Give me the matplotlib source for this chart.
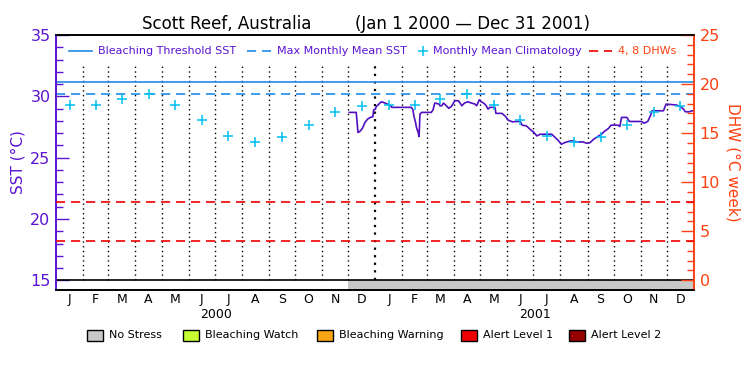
"""
Scott Reef, Australia: SST time series vs. climatology and bleaching
thresholds, 2000-2001, in the style of a Coral Reef Watch station plot.
"""
import numpy as np
import matplotlib
matplotlib.use("Agg")
import matplotlib.pyplot as plt
from matplotlib.patches import Rectangle
from matplotlib.transforms import blended_transform_factory

# ---- data ----
MONTH_LETTERS = ["J", "F", "M", "A", "M", "J", "J", "A", "S", "O", "N", "D"]
YEARS = ["2000", "2001"]

# monthly mean climatology (degC), same every year
clim_sst = [29.30, 29.30, 29.82, 30.15, 29.31, 28.09, 26.77, 26.30,
            26.69, 27.69, 28.76, 29.18]
mmm_sst = 30.15            # maximum monthly mean
threshold_sst = 31.15      # bleaching threshold = MMM + 1
dhw_levels = [4, 8]

# satellite SST, days since 2000-01-01
sst_day = [336, 344, 346, 348, 351, 354, 357, 360, 363, 364, 366, 367, 369,
           371, 373, 377, 382, 385, 407, 409, 410, 412, 413, 415, 416, 417,
           419, 430, 432, 434, 439, 440, 442, 444, 448, 450, 453, 457, 461,
           463, 465, 468, 472, 476, 480, 482, 485, 487, 490, 493, 495, 497,
           503, 504, 511, 515, 518, 523, 528, 532, 534, 539, 543, 547, 551,
           555, 568, 572, 576, 579, 583, 589, 593, 597, 604, 608, 612, 616,
           620, 625, 629, 633, 636, 644, 646, 648, 654, 657, 671, 674, 678,
           681, 683, 696, 699, 711, 715, 719, 721, 726, 728, 731]
sst_val = [28.69, 28.69, 27.05, 27.13, 27.38, 27.87, 28.14, 28.28, 28.33,
           28.90, 28.96, 29.18, 29.29, 29.45, 29.56, 29.45, 29.29, 29.10,
           29.10, 28.90, 28.41, 27.87, 27.46, 27.05, 26.72, 28.55, 28.69,
           28.69, 28.90, 29.45, 29.37, 29.23, 29.23, 29.45, 29.18, 29.02,
           29.18, 29.64, 29.64, 29.45, 29.23, 29.45, 29.56, 29.45, 29.37,
           29.23, 29.72, 29.56, 29.45, 29.23, 28.96, 29.10, 29.10, 28.61,
           28.61, 28.36, 28.06, 27.92, 27.95, 27.95, 27.65, 27.59, 27.32,
           27.10, 26.77, 26.91, 26.91, 26.64, 26.36, 26.09, 26.23, 26.36,
           26.36, 26.28, 26.28, 26.17, 26.23, 26.50, 26.69, 26.91, 27.18,
           27.38, 27.65, 27.65, 27.54, 28.28, 28.28, 27.95, 27.95, 27.81,
           27.95, 28.41, 28.82, 28.82, 29.37, 29.29, 29.18, 28.96, 28.74,
           28.74, 28.82, 28.82]

# stress level bar: (start day, end day, level)
stress_start = [0, 335]
stress_end = [335, 731]
stress_level = [None, "No Stress"]

STRESS_NAMES = ["No Stress", "Bleaching Watch", "Bleaching Warning",
                "Alert Level 1", "Alert Level 2"]
STRESS_COLORS = ["#c8c8c8", "#c8ff32", "#faa514", "#f00000", "#960000"]

# ---- palette ----
PURPLE = "#5a14d2"
LINE_PURPLE = "#5010c0"
ORANGE = "#ff4010"
BLUE = "#1e8ce8"
CYAN = "#00c0f0"
RED = "#f00000"

SST_LO, SST_HI = 14.21, 35.0


def to_dhw(s):
    return (s - 15.0) * 1.25


fig = plt.figure(figsize=(7.5, 3.75), dpi=100)
ax = fig.add_axes([56 / 750, 85 / 375, 638 / 750, 255 / 375])
ax2 = ax.twinx()

# month geometry
month_starts = np.arange("2000-01", "2002-01", dtype="datetime64[M]").astype("datetime64[D]")
start_days = (month_starts - np.datetime64("2000-01-01")).astype(int)
end_days = np.append(start_days[1:], 731)
mid_days = (start_days + end_days) / 2

# stress strip below 15 degC
for s0, s1, lev in zip(stress_start, stress_end, stress_level):
    if lev is not None:
        ax.axvspan(s0, s1, ymin=0, ymax=(15 - SST_LO) / (SST_HI - SST_LO),
                   color=STRESS_COLORS[STRESS_NAMES.index(lev)], lw=0, zorder=1)
ax.axhline(15, color="black", lw=1.2, zorder=3)

# month separators, year boundary a bit heavier
for d in start_days[1:]:
    ax.vlines(d, 15, 32.7, colors="black", linestyles=(0, (1, 2.4)),
              lw=1.6 if d == 366 else 1.0, zorder=2)

# thresholds
ax.axhline(threshold_sst, color=BLUE, lw=1.2, zorder=3)
ax.axhline(mmm_sst, color=BLUE, lw=1.2, dashes=(5.5, 3.5), zorder=3)
for lv in dhw_levels:
    ax2.axhline(lv, color=RED, lw=1.2, dashes=(5.5, 3.5), zorder=3)

# climatology and observed SST
ax.plot(mid_days, np.tile(clim_sst, len(YEARS)), ls="none", marker="+",
        ms=7, mew=1.1, color=CYAN, zorder=5)
ax.plot(sst_day, sst_val, color=LINE_PURPLE, lw=1.2, zorder=4)

# axes ranges and ticks
ax.set_xlim(0, 731)
ax.set_ylim(SST_LO, SST_HI)
ax2.set_ylim(to_dhw(SST_LO), to_dhw(SST_HI))
ax.set_xticks([])
ax.set_yticks([15, 20, 25, 30, 35])
ax.set_yticks(np.arange(16, 35), minor=True)
ax2.set_yticks([0, 5, 10, 15, 20, 25])
ax2.set_yticks(np.arange(1, 25), minor=True)
ax.tick_params(axis="y", which="major", direction="in", length=9.5, width=1,
               color=PURPLE, labelcolor=PURPLE, labelsize=11.5, pad=4)
ax.tick_params(axis="y", which="minor", direction="in", length=5, width=1,
               color=PURPLE)
ax2.tick_params(axis="y", which="major", direction="in", length=9.5, width=1,
                color=ORANGE, labelcolor=ORANGE, labelsize=11.5, pad=4)
ax2.tick_params(axis="y", which="minor", direction="in", length=5, width=1,
                color=ORANGE)
ax.set_ylabel("SST (°C)", color=PURPLE, fontsize=11, labelpad=3)
ax2.set_ylabel("DHW (°C week)", color=ORANGE, fontsize=11, rotation=270,
               labelpad=15)

for a in (ax, ax2):
    a.spines["top"].set_color("black")
    a.spines["bottom"].set_color("black")
    a.spines["left"].set_color(PURPLE)
    a.spines["right"].set_color(ORANGE)
    for sp in a.spines.values():
        sp.set_linewidth(1.2)

# month and year labels under the axis
trans = blended_transform_factory(ax.transData, ax.transAxes)
for i, d in enumerate(mid_days):
    ax.text(d, -0.036, MONTH_LETTERS[i % 12], transform=trans,
            ha="center", va="center", fontsize=9)
for k, yr in enumerate(YEARS):
    ax.text((start_days[12 * k] + end_days[12 * k + 11]) / 2, -0.098, yr,
            transform=trans, ha="center", va="center", fontsize=9)

# top legend (hand placed, axes fraction)
def axx(px):
    return (px - 56) / 638


ly = (290 - 51) / 255
ax.plot([axx(69), axx(92)], [ly, ly], transform=ax.transAxes, color=BLUE,
        lw=1.2, clip_on=False)
ax.text(axx(98), ly, "Bleaching Threshold SST", transform=ax.transAxes,
        color=PURPLE, fontsize=8, va="center")
ax.plot([axx(247), axx(271)], [ly, ly], transform=ax.transAxes, color=BLUE,
        lw=1.2, dashes=(5.5, 3.5), clip_on=False)
ax.text(axx(277), ly, "Max Monthly Mean SST", transform=ax.transAxes,
        color=PURPLE, fontsize=8, va="center")
ax.plot([axx(423)], [ly], transform=ax.transAxes, ls="none", marker="+",
        ms=7, mew=1.1, color=CYAN, clip_on=False)
ax.text(axx(433), ly, "Monthly Mean Climatology", transform=ax.transAxes,
        color=PURPLE, fontsize=8, va="center")
ax.plot([axx(589), axx(612)], [ly, ly], transform=ax.transAxes, color=RED,
        lw=1.2, dashes=(5.5, 3.5), clip_on=False)
ax.text(axx(618), ly, "4, 8 DHWs", transform=ax.transAxes,
        color=ORANGE, fontsize=8, va="center")

# title
fig.text(142 / 750, 1 - 29 / 375, "Scott Reef, Australia", fontsize=12,
         va="baseline", ha="left")
fig.text(355 / 750, 1 - 29 / 375, "(Jan 1 2000 — Dec 31 2001)", fontsize=12,
         va="baseline", ha="left")

# stress legend along the bottom
box_x = [87, 183, 317, 461, 569]
by = 1 - 341 / 375
for x0, name, col in zip(box_x, STRESS_NAMES, STRESS_COLORS):
    fig.patches.append(Rectangle((x0 / 750, by), 16 / 750, 11 / 375,
                                 transform=fig.transFigure, facecolor=col,
                                 edgecolor="black", lw=1))
    fig.text((x0 + 22) / 750, 1 - 335 / 375, name, fontsize=8, va="center")

fig.savefig("out.png", dpi=100)
